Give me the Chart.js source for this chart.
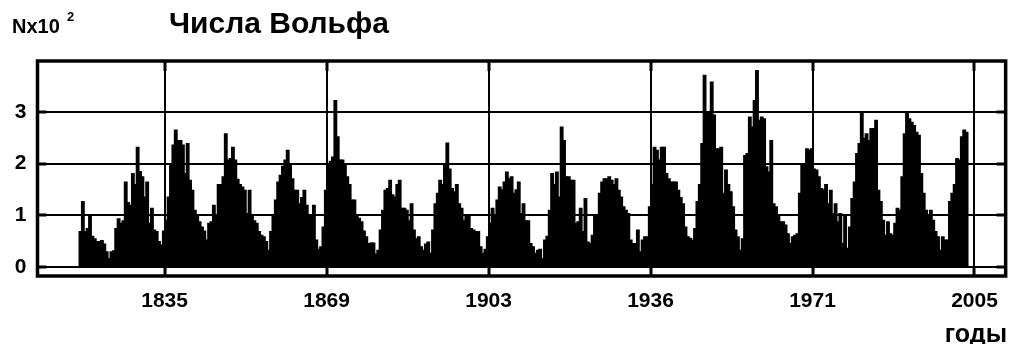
<!DOCTYPE html>
<html>
<head>
<meta charset="utf-8">
<script src="https://cdn.jsdelivr.net/npm/chart.js@4.4.0/dist/chart.umd.min.js"></script>
<style>
html, body { margin: 0; padding: 0; background: #fff; }
#wrap { width: 1011px; height: 344px; }
</style>
</head>
<body>
<div id="wrap"><canvas id="c" width="1011" height="344"></canvas></div>
<script>
// Wolf numbers (x100), half-year samples
const w1817 = [0.69,1.27,0.69,0.75,1.0,0.6,0.55,0.5,0.5,0.52, 0.45,0.3,0.17,0.3,0.32,0.75,0.94,0.85,0.9,1.65,
  1.25,1.2,1.81,1.6,2.32,1.85,1.75,1.36,1.65,0.85, 1.14,0.72,0.69,0.5,0.43,0.7,0.91,1.36,2.0,2.36,
  2.65,2.45,2.45,2.36,1.81,2.39,1.68,1.49,1.1,0.98];
const w1842 = [0.88,0.78,0.7,0.53,0.85,0.88,1.2,0.98,1.6,1.6, 1.75,2.58,2.07,2.1,2.32,2.07,1.7,1.6,1.55,1.49,
  1.04,1.49,1.0,0.9,0.85,0.69,0.62,0.59,0.5,0.33, 0.69,1.0,1.3,1.65,1.78,1.95,2.07,2.26,2.0,1.71,
  1.49,1.49,1.23,1.35,1.49,1.2,0.98,0.98,1.2,0.53];
const w1867 = [0.35,0.4,0.78,1.49,2.0,2.05,2.13,3.22,2.52,2.07, 2.07,2.0,1.75,1.6,1.3,1.3,1.0,0.95,0.88,0.7,
  0.59,0.46,0.47,0.47,0.26,0.33,0.72,1.1,1.49,1.52, 1.68,1.4,1.36,1.6,1.68,1.14,1.14,1.1,0.9,1.23,
  0.72,0.55,0.59,0.4,0.33,0.45,0.49,0.27,0.72,1.23];
const w1892 = [1.43,1.68,1.6,2.0,2.4,1.9,1.52,1.46,1.6,1.23, 1.14,0.91,0.98,0.98,0.75,0.72,0.69,0.69,0.4,0.27,
  0.35,0.59,0.85,1.14,1.0,1.3,1.55,1.5,1.65,1.84, 1.71,1.75,1.43,1.5,1.65,1.04,1.23,0.9,0.9,0.46,
  0.4,0.27,0.33,0.35,0.17,0.53,0.6,1.1,1.81,1.6];
const w1917 = [1.84,1.36,2.71,2.45,1.75,1.75,1.68,1.68,0.85,0.88, 1.14,0.69,1.33,0.49,0.46,0.62,0.98,0.98,1.43,1.65,
  1.71,1.71,1.75,1.68,1.6,1.71,1.49,1.36,1.17,1.1, 1.04,0.53,0.46,0.46,0.72,0.3,0.53,0.59,0.59,1.17,
  1.6,2.32,2.26,2.07,2.32,2.32,1.81,1.71,1.65,1.65];
const w1942 = [1.65,1.49,1.35,1.23,0.78,0.59,0.56,0.53,0.75,1.27, 1.6,2.39,3.71,3.0,2.97,3.58,2.94,2.29,2.29,2.32,
  1.43,1.88,1.6,1.46,1.17,0.72,0.59,0.33,0.55,2.16, 2.2,2.9,2.71,3.22,3.8,2.84,2.9,2.87,1.94,1.84,
  2.45,1.23,1.17,0.98,0.88,0.88,0.82,0.65,0.46,0.59];
const w1967 = [0.62,0.65,1.43,1.97,2.0,2.29,2.26,2.29,1.9,1.88, 1.75,1.52,1.5,1.6,1.23,1.49,1.04,1.23,0.88,1.04,
  0.46,1.0,0.37,0.78,1.33,1.65,2.2,2.39,2.97,2.49, 2.58,2.45,2.68,2.68,2.84,1.49,1.27,0.91,0.62,0.88,
  0.65,0.62,0.85,1.14,1.1,1.75,2.58,2.97,2.87,2.8];
const w1992 = [2.74,2.61,2.55,1.81,1.43,1.1,0.98,1.1,0.91,0.69, 0.59,0.33,0.59,0.53,0.53,1.27,1.43,1.6,2.1,2.07,
  2.52,2.65,2.61];

const wolf = [].concat(w1817, w1842, w1867, w1892, w1917, w1942, w1967, w1992);
const START_YEAR = 1817.34;
const STEP = 0.5;
const years = wolf.map((v, i) => START_YEAR + i * STEP);

const xTickYears = [1835, 1869, 1903, 1937, 1971, 2005];
const xTickLabels = ['1835', '1869', '1903', '1936', '1971', '2005'];
const yTickValues = [0, 1, 2, 3];
const yTickLabels = ['0', '1', '2', '3'];

const FONT = "'Liberation Sans', Arial, sans-serif";

const framePlugin = {
  id: 'frame',
  afterDraw(chart) {
    const { ctx, chartArea: a, scales } = chart;
    const x = scales.x, y = scales.y;
    ctx.save();
    ctx.strokeStyle = '#000';
    ctx.lineWidth = 3.5;
    ctx.strokeRect(a.left, a.top, a.right - a.left, a.bottom - a.top);
    ctx.lineWidth = 3;
    ctx.beginPath();
    y.ticks.forEach(t => {
      const py = Math.round(y.getPixelForValue(t.value));
      ctx.moveTo(a.left, py); ctx.lineTo(a.left + 9, py);
      ctx.moveTo(a.right, py); ctx.lineTo(a.right - 9, py);
    });
    x.ticks.forEach(t => {
      const px = Math.round(x.getPixelForValue(t.value));
      ctx.moveTo(px, a.top); ctx.lineTo(px, a.top + 10);
      ctx.moveTo(px, a.bottom); ctx.lineTo(px, a.bottom - 10);
    });
    ctx.stroke();

    ctx.fillStyle = '#000';
    ctx.textBaseline = 'alphabetic';
    ctx.textAlign = 'left';
    ctx.font = 'bold 20px ' + FONT;
    ctx.fillText('Nx10', 12, 33);
    ctx.font = 'bold 13px ' + FONT;
    ctx.fillText('2', 67, 21);
    ctx.font = 'bold 30px ' + FONT;
    ctx.fillText('Числа Вольфа', 169, 33);
    ctx.textAlign = 'right';
    ctx.font = 'bold 25px ' + FONT;
    ctx.fillText('годы', 1007, 342);
    ctx.restore();
  }
};

new Chart(document.getElementById('c'), {
  type: 'bar',
  data: {
    datasets: [{
      data: wolf.map((v, i) => ({ x: years[i], y: v })),
      backgroundColor: '#000',
      borderWidth: 0,
      barThickness: 3.2
    }]
  },
  options: {
    responsive: false,
    animation: false,
    layout: { padding: { top: 61, right: 4.5, left: 0, bottom: 0 } },
    plugins: { legend: { display: false }, tooltip: { enabled: false } },
    scales: {
      x: {
        type: 'linear',
        min: 1808.32,
        max: 2011.54,
        offset: false,
        afterBuildTicks: s => { s.ticks = xTickYears.map(v => ({ value: v })); },
        afterFit: s => { s.height = 68; },
        grid: { color: '#000', lineWidth: 2, drawTicks: false, offset: false },
        border: { display: false },
        ticks: {
          autoSkip: false, maxRotation: 0, padding: 13, color: '#000',
          font: { family: FONT, size: 21, weight: 'bold' },
          callback: (v, i) => xTickLabels[i]
        }
      },
      y: {
        min: -0.17,
        max: 3.98,
        afterBuildTicks: s => { s.ticks = yTickValues.map(v => ({ value: v })); },
        afterFit: s => { s.width = 37.5; },
        grid: { color: '#000', lineWidth: 2, drawTicks: false },
        border: { display: false },
        ticks: {
          padding: 11, color: '#000',
          font: { family: FONT, size: 21, weight: 'bold' },
          callback: (v, i) => yTickLabels[i]
        }
      }
    }
  },
  plugins: [framePlugin]
});
</script>
</body>
</html>
